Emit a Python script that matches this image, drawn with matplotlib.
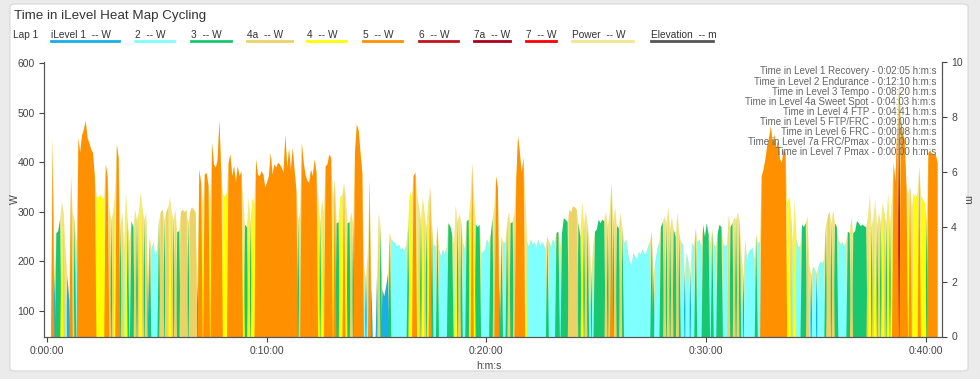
import numpy as np
import matplotlib.pyplot as plt
from matplotlib.patches import FancyBboxPatch
from matplotlib.lines import Line2D

plt.rcParams['font.family'] = ['Liberation Sans', 'DejaVu Sans']

step = 5  # seconds between samples

# power in W, one value every 5 s
power = [
    0, 0, 0, 450, 175, 258, 262, 285, 322, 300, 230, 172,           # 0:00
    123, 373, 300, 285, 238, 450, 420, 455, 467, 485, 450, 440,     # 0:01
    427, 420, 370, 332, 330, 335, 328, 330, 397, 370, 305, 285,     # 0:02
    300, 340, 437, 410, 272, 300, 230, 340, 282, 240, 282, 270,     # 0:03
    305, 285, 300, 340, 310, 285, 300, 177, 250, 225, 240, 210,     # 0:04
    225, 282, 300, 305, 285, 300, 310, 330, 300, 285, 305, 260,     # 0:05
    262, 300, 305, 300, 305, 280, 300, 310, 305, 300, 160, 386,     # 0:06
    360, 320, 376, 380, 355, 330, 440, 397, 390, 405, 485, 380,     # 0:07
    335, 332, 340, 400, 417, 373, 393, 360, 393, 373, 383, 330,     # 0:08
    275, 270, 330, 278, 328, 315, 407, 376, 373, 383, 376, 350,     # 0:09
    360, 373, 420, 376, 397, 390, 400, 397, 390, 380, 457, 390,     # 0:10
    428, 385, 430, 385, 346, 285, 300, 440, 400, 376, 363, 360,     # 0:11
    386, 373, 407, 380, 330, 280, 325, 300, 393, 397, 417, 410,     # 0:12
    330, 366, 278, 280, 330, 335, 358, 335, 278, 280, 300, 278,     # 0:13
    420, 478, 465, 420, 380, 190, 168, 218, 366, 150, 0, 0,         # 0:14
    170, 298, 270, 143, 130, 150, 175, 258, 245, 240, 238, 230,     # 0:15
    235, 225, 228, 222, 235, 275, 340, 330, 373, 380, 335, 310,     # 0:16
    285, 330, 300, 270, 320, 352, 278, 235, 230, 272, 225, 210,     # 0:17
    225, 215, 230, 278, 272, 255, 238, 315, 282, 298, 280, 238,     # 0:18
    225, 282, 285, 325, 400, 330, 275, 270, 275, 218, 220, 225,     # 0:19
    245, 238, 250, 285, 309, 373, 350, 153, 251, 240, 238, 278,     # 0:20
    302, 278, 280, 298, 362, 454, 420, 380, 410, 330, 240, 230,     # 0:21
    245, 235, 240, 228, 245, 232, 240, 235, 225, 251, 240, 230,     # 0:22
    245, 238, 258, 261, 231, 258, 288, 285, 280, 305, 300, 312,     # 0:23
    310, 305, 278, 250, 322, 275, 302, 275, 238, 175, 235, 261,     # 0:24
    265, 285, 278, 285, 282, 302, 272, 300, 359, 285, 310, 272,     # 0:25
    268, 300, 268, 238, 245, 218, 200, 190, 218, 210, 205, 220,     # 0:26
    215, 225, 215, 218, 230, 240, 261, 175, 200, 225, 238, 270,     # 0:27
    280, 292, 278, 309, 268, 290, 265, 250, 300, 258, 240, 235,     # 0:28
    177, 218, 200, 178, 238, 230, 268, 240, 245, 232, 275, 250,     # 0:29
    278, 255, 238, 265, 235, 230, 258, 275, 270, 238, 231, 235,     # 0:30
    295, 270, 278, 290, 285, 300, 282, 218, 170, 245, 200, 220,     # 0:31
    225, 228, 205, 255, 238, 240, 373, 386, 407, 434, 450, 474,     # 0:32
    440, 457, 430, 445, 407, 400, 427, 420, 319, 330, 300, 240,     # 0:33
    325, 245, 230, 232, 275, 270, 278, 292, 195, 172, 190, 185,     # 0:34
    177, 190, 200, 197, 204, 272, 290, 302, 278, 305, 278, 270,     # 0:35
    245, 235, 240, 231, 240, 261, 258, 290, 258, 262, 282, 278,     # 0:36
    272, 275, 272, 270, 292, 336, 272, 292, 326, 272, 300, 278,     # 0:37
    319, 299, 278, 339, 278, 320, 400, 360, 480, 565, 490, 460,     # 0:38
    447, 353, 339, 353, 310, 339, 326, 340, 393, 335, 325, 319,     # 0:39
    285, 420, 425, 417, 417, 417, 400,                              # 0:40
]

zone_labels = ["iLevel 1  -- W", "2  -- W", "3  -- W", "4a  -- W", "4  -- W",
               "5  -- W", "6  -- W", "7a  -- W", "7  -- W"]
zone_colors = ["#1aaee6", "#80ffff", "#19c86e", "#ebd266", "#ffff00",
               "#ff9000", "#c0141e", "#a8001c", "#ff0000"]
zone_upper = [180, 246, 289, 314, 345, 500, 650, 800, 100000]

summary_names = ["Level 1 Recovery", "Level 2 Endurance", "Level 3 Tempo",
                 "Level 4a Sweet Spot", "Level 4 FTP", "Level 5 FTP/FRC",
                 "Level 6 FRC", "Level 7a FRC/Pmax", "Level 7 Pmax"]
summary_times = ["0:02:05", "0:12:10", "0:08:20", "0:04:03", "0:04:41",
                 "0:09:00", "0:00:08", "0:00:00", "0:00:00"]

extra_labels = ["Power  -- W", "Elevation  -- m"]
extra_colors = ["#f0e68c", "#555555"]

tick_secs = [0, 600, 1200, 1800, 2400]
tick_names = ["0:00:00", "0:10:00", "0:20:00", "0:30:00", "0:40:00"]

t = np.arange(len(power)) * step
p = np.array(power, dtype=float)
zone = np.searchsorted(zone_upper, p, side='right')

W, H = 980, 379
fig = plt.figure(figsize=(W / 100, H / 100), dpi=100)
fig.patch.set_facecolor('#ebebeb')
panel = FancyBboxPatch((10 / W, 8 / H), 958 / W, 367 / H,
                       boxstyle='round,pad=0,rounding_size=0.006',
                       transform=fig.transFigure, fc='white', ec='#d6d6d6',
                       lw=0.8, zorder=-10)
fig.patches.append(panel)

ax = fig.add_axes([44.3 / W, 1 - 336.5 / H, 897.2 / W, 274.5 / H])
ax.set_facecolor('none')

# power area behind, zone areas on top (top levels first so only their tips show)
ax.fill_between(t, 0, p, color='#f0e68c', lw=0)
for i in [6, 7, 8, 0, 1, 2, 3, 4, 5]:
    y = np.where(zone == i, p, 0)
    if y.max() > 0:
        ax.fill_between(t, 0, y, color=zone_colors[i], lw=0)

ax.set_xlim(-6.6, 2442)
ax.set_ylim(48, 603)
ax.set_yticks([100, 200, 300, 400, 500, 600])
ax.set_xticks(tick_secs)
ax.set_xticklabels(tick_names)

ax2 = ax.twinx()
ax2.set_ylim(0, 10)
ax2.set_yticks([0, 2, 4, 6, 8, 10])

for a in (ax, ax2):
    for s in a.spines.values():
        s.set_color('#555555')
        s.set_linewidth(0.8)
    a.spines['top'].set_visible(False)
    a.tick_params(labelsize=7.5, colors='#444444', length=3.5, width=0.8)

ax.set_xlabel('h:m:s', fontsize=7.5, color='#444444')
ax.xaxis.set_label_coords(0.496, -0.089)
ax.set_ylabel('W', fontsize=7.5, color='#444444')
ax.yaxis.set_label_coords(-0.027, 0.5)
ax2.set_ylabel('m', fontsize=7.5, color='#444444', rotation=270)
ax2.yaxis.set_label_coords(1.034, 0.5)

# summary text block, top right
for i, (n, tt) in enumerate(zip(summary_names, summary_times)):
    fig.text(936 / W, 1 - (71.5 + i * 10.1) / H, f"Time in {n} - {tt} h:m:s",
             ha='right', va='center', fontsize=7, color='#666666', zorder=5)

# title and legend row
fig.text(14 / W, 1 - 16 / H, "Time in iLevel Heat Map Cycling",
         fontsize=9.6, color='#333333', va='center')
fig.text(13 / W, 1 - 35 / H, "Lap 1", fontsize=7.3, color='#333333', va='center')

leg_x = [(51, 119), (135, 174), (191, 231), (247, 292), (307, 346),
         (363, 402), (419, 458), (474, 510), (526, 556), (572, 633), (651, 713)]
labels = zone_labels + extra_labels
colors = zone_colors + extra_colors
for (x0, x1), lab, c in zip(leg_x, labels, colors):
    fig.text(x0 / W, 1 - 35 / H, lab, fontsize=7.3, color='#333333', va='center')
    fig.add_artist(Line2D([x0 / W, x1 / W], [1 - 40.5 / H, 1 - 40.5 / H],
                          color=c, lw=2, transform=fig.transFigure))

fig.savefig('out.png', dpi=100, facecolor=fig.get_facecolor())
